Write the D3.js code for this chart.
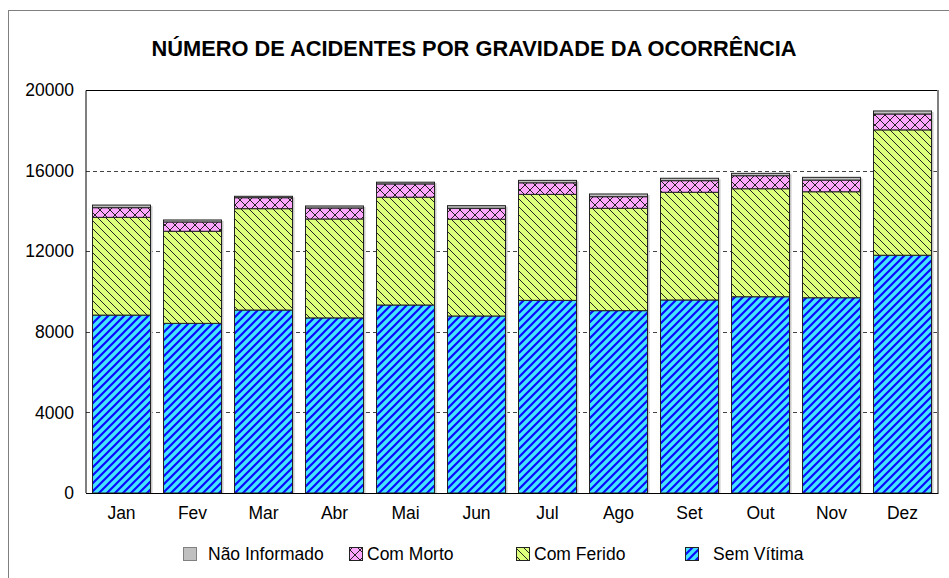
<!DOCTYPE html>
<html>
<head>
<meta charset="utf-8">
<script src="https://cdn.jsdelivr.net/npm/d3@7"></script>
<style>
  body { margin: 0; background: #fff; }
  svg { font-family: "Liberation Sans", Arial, sans-serif; }
</style>
</head>
<body>
<svg id="chart" width="949" height="578"></svg>
<script>
const months = ["Jan", "Fev", "Mar", "Abr", "Mai", "Jun", "Jul", "Ago", "Set", "Out", "Nov", "Dez"];
const semVitima = [8830, 8420, 9080, 8690, 9330, 8785, 9560, 9050, 9580, 9740, 9690, 11800];
const comFerido = [4850, 4570, 5030, 4910, 5350, 4800, 5260, 5080, 5345, 5360, 5260, 6220];
const comMorto = [480, 460, 545, 545, 660, 545, 575, 575, 575, 645, 580, 790];
const naoInformado = [130, 100, 70, 100, 85, 130, 120, 135, 120, 120, 135, 150];
const yTicks = [0, 4000, 8000, 12000, 16000, 20000];

const series = [
  { key: "semVitima", name: "Sem Vítima", values: semVitima, fill: "url(#pSem)" },
  { key: "comFerido", name: "Com Ferido", values: comFerido, fill: "url(#pFerido)" },
  { key: "comMorto", name: "Com Morto", values: comMorto, fill: "url(#pMorto)" },
  { key: "naoInformado", name: "Não Informado", values: naoInformado, fill: "#c0c0c0" }
];

const svg = d3.select("#chart");
const plot = { left: 86, right: 938, top: 90, bottom: 493 };

// outer frame (runs off the page on the right and bottom)
svg.append("rect")
  .attr("x", 8.5).attr("y", 10.5)
  .attr("width", 1000).attr("height", 1000)
  .attr("fill", "none").attr("stroke", "#808080");

// patterns
const defs = svg.append("defs");
const pSem = defs.append("pattern").attr("id", "pSem")
  .attr("patternUnits", "userSpaceOnUse").attr("width", 8).attr("height", 8);
pSem.append("rect").attr("width", 8).attr("height", 8).attr("fill", "#44e4ff");
pSem.append("path").attr("d", "M-2,2 L2,-2 M0,8 L8,0 M6,10 L10,6")
  .attr("stroke", "#0a0aff").attr("stroke-width", 2.2);

const pFerido = defs.append("pattern").attr("id", "pFerido")
  .attr("patternUnits", "userSpaceOnUse").attr("width", 8).attr("height", 8);
pFerido.append("rect").attr("width", 8).attr("height", 8).attr("fill", "#dcff7c");
pFerido.append("path").attr("d", "M0,0 L8,8 M-2,6 L2,10 M6,-2 L10,2")
  .attr("stroke", "#222").attr("stroke-width", 1);

const pMorto = defs.append("pattern").attr("id", "pMorto")
  .attr("patternUnits", "userSpaceOnUse").attr("width", 10).attr("height", 10);
pMorto.append("rect").attr("width", 10).attr("height", 10).attr("fill", "#ffa6ff");
pMorto.append("path").attr("d", "M0,0 L10,10 M10,0 L0,10")
  .attr("stroke", "#222").attr("stroke-width", 1);

// scales
const x = d3.scaleBand().domain(months)
  .range([plot.left, plot.right])
  .paddingInner(13 / 71).paddingOuter(13 / 142);
const y = d3.scaleLinear().domain([0, 20000]).range([plot.bottom, plot.top]);

// gridlines
svg.append("g")
  .selectAll("line")
  .data(yTicks.filter(d => d > 0 && d < 20000))
  .join("line")
  .attr("x1", plot.left).attr("x2", plot.right)
  .attr("y1", d => Math.round(y(d)) + 0.5).attr("y2", d => Math.round(y(d)) + 0.5)
  .attr("stroke", "#444").attr("stroke-dasharray", "4,3");

// stacked bars
const table = months.map((m, i) => {
  const row = { month: m };
  series.forEach(s => { row[s.key] = s.values[i]; });
  return row;
});
const stack = d3.stack().keys(series.map(s => s.key))(table);

// light shadow on the right of each bar
svg.append("g")
  .selectAll("rect")
  .data(table)
  .join("rect")
  .attr("x", d => x(d.month) + 2)
  .attr("y", d => y(d3.sum(series, s => d[s.key])) + 1)
  .attr("width", x.bandwidth())
  .attr("height", d => y(0) - y(d3.sum(series, s => d[s.key])) - 1)
  .attr("fill", "#c8c8c8");

svg.append("g")
  .selectAll("g")
  .data(stack)
  .join("g")
  .attr("fill", (d, i) => series[i].fill)
  .selectAll("rect")
  .data(d => d)
  .join("rect")
  .attr("x", d => x(d.data.month))
  .attr("y", d => y(d[1]))
  .attr("width", x.bandwidth())
  .attr("height", d => y(d[0]) - y(d[1]))
  .attr("stroke", "#222")
  .attr("stroke-width", 1);

// plot frame
svg.append("path")
  .attr("d", `M${plot.left},${plot.bottom} V${plot.top + 0.5} H${plot.right}`)
  .attr("fill", "none").attr("stroke", "#000");
svg.append("line")
  .attr("x1", plot.right).attr("x2", plot.right)
  .attr("y1", plot.top).attr("y2", plot.bottom + 1)
  .attr("stroke", "#808080").attr("stroke-width", 2);
svg.append("line")
  .attr("x1", plot.left).attr("x2", plot.right)
  .attr("y1", plot.bottom + 0.5).attr("y2", plot.bottom + 0.5)
  .attr("stroke", "#000");

// axes
const yAxis = svg.append("g")
  .attr("transform", `translate(${plot.left},0)`)
  .call(d3.axisLeft(y).tickValues(yTicks).tickSize(0).tickPadding(12).tickFormat(d3.format("d")));
yAxis.select(".domain").remove();
yAxis.selectAll("text").attr("font-size", 17.5).attr("fill", "#000").attr("font-family", null);

const xAxis = svg.append("g")
  .attr("transform", `translate(0,${plot.bottom})`)
  .call(d3.axisBottom(x).tickSize(0).tickPadding(14));
xAxis.select(".domain").remove();
xAxis.selectAll("text").attr("font-size", 17.5).attr("fill", "#000").attr("font-family", null);

// title
svg.append("text")
  .attr("x", 474).attr("y", 56)
  .attr("text-anchor", "middle")
  .attr("font-size", 22).attr("font-weight", "bold")
  .attr("textLength", 645).attr("lengthAdjust", "spacingAndGlyphs")
  .text("NÚMERO DE ACIDENTES POR GRAVIDADE DA OCORRÊNCIA");

// legend
const legendItems = [
  { s: series[3], sx: 183, tx: 208 },
  { s: series[2], sx: 349, tx: 367 },
  { s: series[1], sx: 516, tx: 534 },
  { s: series[0], sx: 685, tx: 713 }
];
const legend = svg.append("g");
legend.selectAll("rect")
  .data(legendItems)
  .join("rect")
  .attr("x", d => d.sx + 0.5).attr("y", 547.5)
  .attr("width", 13).attr("height", 13)
  .attr("fill", d => d.s.fill)
  .attr("stroke", d => d.s.key === "naoInformado" ? "#808080" : "#222");
legend.selectAll("text")
  .data(legendItems)
  .join("text")
  .attr("x", d => d.tx).attr("y", 560)
  .attr("font-size", 17.5)
  .text(d => d.s.name);
</script>
</body>
</html>
